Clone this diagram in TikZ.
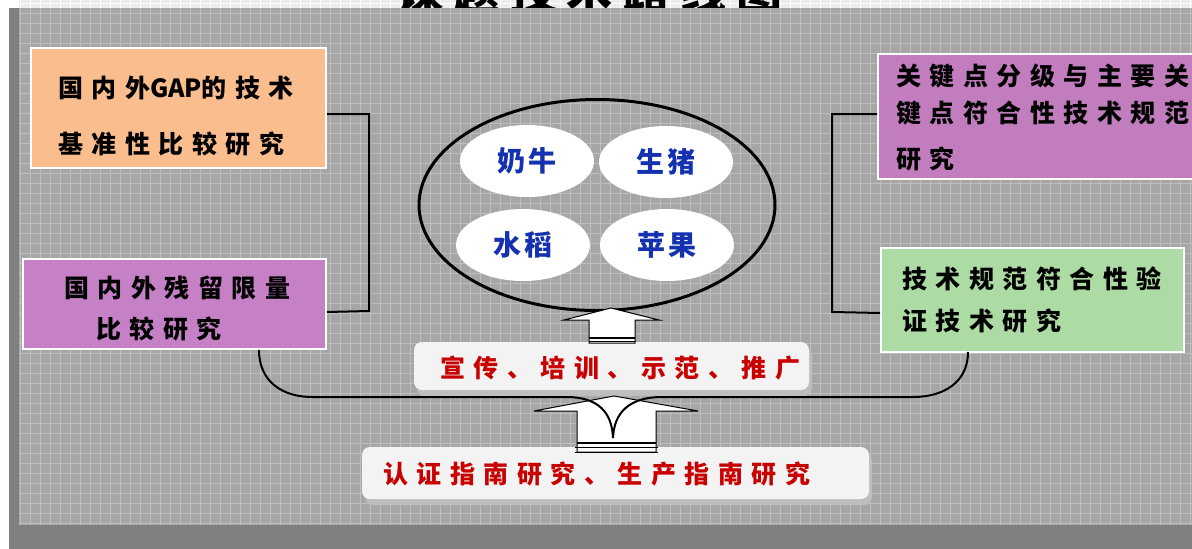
\documentclass[tikz,border=0pt]{standalone}
\usepackage{fontspec}
\usetikzlibrary{shapes.geometric,shadows}
\newfontfamily\cjk{Noto Sans CJK SC}[LetterSpace=34]
\newfontfamily\cjkn{Noto Sans CJK SC}
\newfontfamily\cjks{Noto Sans CJK SC}[LetterSpace=14]
\newfontfamily\cjkt{Noto Sans CJK SC}[LetterSpace=23]
\definecolor{panelc}{RGB}{166,166,166}
\definecolor{gridc}{RGB}{190,190,190}
\definecolor{lightc}{RGB}{236,236,236}
\definecolor{darkc}{RGB}{128,128,128}
\definecolor{peach}{RGB}{250,190,142}
\definecolor{purpleB}{RGB}{198,128,198}
\definecolor{purpleC}{RGB}{193,125,189}
\definecolor{greenD}{RGB}{172,219,163}
\definecolor{bluet}{RGB}{20,50,175}
\definecolor{redt}{RGB}{200,0,0}
\definecolor{paleb}{RGB}{243,243,243}
\definecolor{shadc}{RGB}{190,190,190}
\tikzset{
  box/.style={draw=white, line width=2pt, anchor=north west, inner sep=0},
  txt/.style={font=\cjk\bfseries\fontsize{25}{#1}\selectfont, inner sep=0, anchor=base west, align=left},
  crop/.style={ellipse, fill=white, minimum width=134pt, minimum height=72pt, inner sep=0,
     font=\cjks\bfseries\fontsize{28}{28}\selectfont, text=bluet},
  pill/.style={fill=paleb, rounded corners=8pt, inner sep=0,
     drop shadow={shadow xshift=3pt, shadow yshift=-6pt, fill=shadc, opacity=1}},
  redtxt/.style={font=\cjk\bfseries\fontsize{25}{25}\selectfont, text=redt, inner sep=0, anchor=base west},
  link/.style={line width=2pt, black},
  blockarrow/.style={fill=white, draw=black, line width=1pt, line join=miter},
}
\begin{document}
\begin{tikzpicture}[x=1pt,y=-1pt]
\useasboundingbox (0,0) rectangle (1192,549);
\clip (0,0) rectangle (1192,549);
\fill[white] (0,0) rectangle (1192,549);
% top light strip
\fill[lightc] (19,0) rectangle (1192,8);
\foreach \x in {20,30,...,1190} \draw[white, line width=1pt] (\x,0) -- (\x,8);
\draw[white, line width=1pt] (19,3) -- (1192,3);
% title (mostly cut off by the frame of the slide)
\node[font=\cjkt\bfseries\fontsize{46}{46}\selectfont, anchor=base, inner sep=0] (title) at (590,9) {课题技术路线图};
% shadow and panel
\fill[darkc] (9,8) rectangle (1192,549);
\fill[panelc] (19,8) rectangle (1192,525);
\foreach \x in {20,30,...,1190} \draw[gridc, line width=1pt] (\x,8) -- (\x,525);
\foreach \y in {13,23,...,523} \draw[gridc, line width=1pt] (19,\y) -- (1192,\y);

% boxes
\node[box, fill=peach, minimum width=295pt, minimum height=120pt] (A) at (30,47) {};
\node[box, fill=purpleB, minimum width=303pt, minimum height=90pt] (B) at (22,258) {};
\node[box, fill=purpleC, minimum width=330pt, minimum height=125pt] (C) at (877,53) {};
\node[box, fill=greenD, minimum width=303pt, minimum height=104pt] (D) at (880,247) {};

% (anchor base of a multi-line node = baseline of its last line)
\node[txt=56] (Atext) at (58,153) {国内外{\cjkn GAP}的技术\\基准性比较研究};
\node[txt=41] (Btext) at (64,338) {国内外残留限量\\\hspace*{32pt}比较研究};
\node[txt=37] (Ctext) at (896,168) {关键点分级与主要关\\键点符合性技术规范\\[9pt]研究};
\node[txt=42] (Dtext) at (902,330) {技术规范符合性验\\证技术研究};

% brackets
\draw[link] ([yshift=-6pt]A.east) -| (369,311) -- ([yshift=-8pt]B.east);
\draw[link] ([yshift=2.5pt]C.west) -| (832,312) -- ([yshift=-13pt]D.west);

% central ring
\node[draw=black, line width=3pt, ellipse, minimum width=356pt, minimum height=211pt, inner sep=0] (ring) at (597,205) {};
\node[crop] (cow) at (527,161) {奶牛};
\node[crop] (pig) at (666,162) {生猪};
\node[crop] (rice) at (523,245) {水稻};
\node[crop] (apple) at (667,245) {苹果};

% pills
\node[pill, minimum width=395pt, minimum height=48pt] (P) at (611.5,366) {};
\node[redtxt] (Ptext) at (440,377) {宣传、培训、示范、推广};
\node[pill, minimum width=507pt, minimum height=52pt] (R) at (615.5,473) {};
\node[redtxt] (Rtext) at (383,483) {认证指南研究、生产指南研究};

% small block arrow
\draw[blockarrow] (589,343) -- (589,320) -- (564,320) -- (611,308) -- (659,320) -- (635,320) -- (635,343) -- cycle;
\draw[line width=2pt] (589,338) -- (635,338);
\draw[line width=0.8pt] (589,341.5) -- (635,341.5);

% big block arrow
\draw[blockarrow] (577,452) -- (577,411) -- (534,411) -- (614,396) -- (698,411) -- (656,411) -- (656,452) -- cycle;
\draw[line width=2pt] (577,443) -- (656,443);
\draw[line width=0.8pt] (575,447.5) -- (658,447.5);
\draw[line width=0.8pt] (575,452) -- (658,452);

% U bracket merging into the arrow
\coordinate (uL) at (259,350);
\coordinate (uR) at (968,352);
\coordinate (cusp) at (613,438);
\draw[link] (uL) .. controls (259,382) and (283,397) .. (312,397) -- (566,397)
   .. controls (598,397) and (612,412) .. (cusp);
\draw[link] (uR) .. controls (968,382) and (944,397) .. (913,397) -- (662,397)
   .. controls (630,397) and (614,412) .. (cusp);
\end{tikzpicture}
\end{document}
